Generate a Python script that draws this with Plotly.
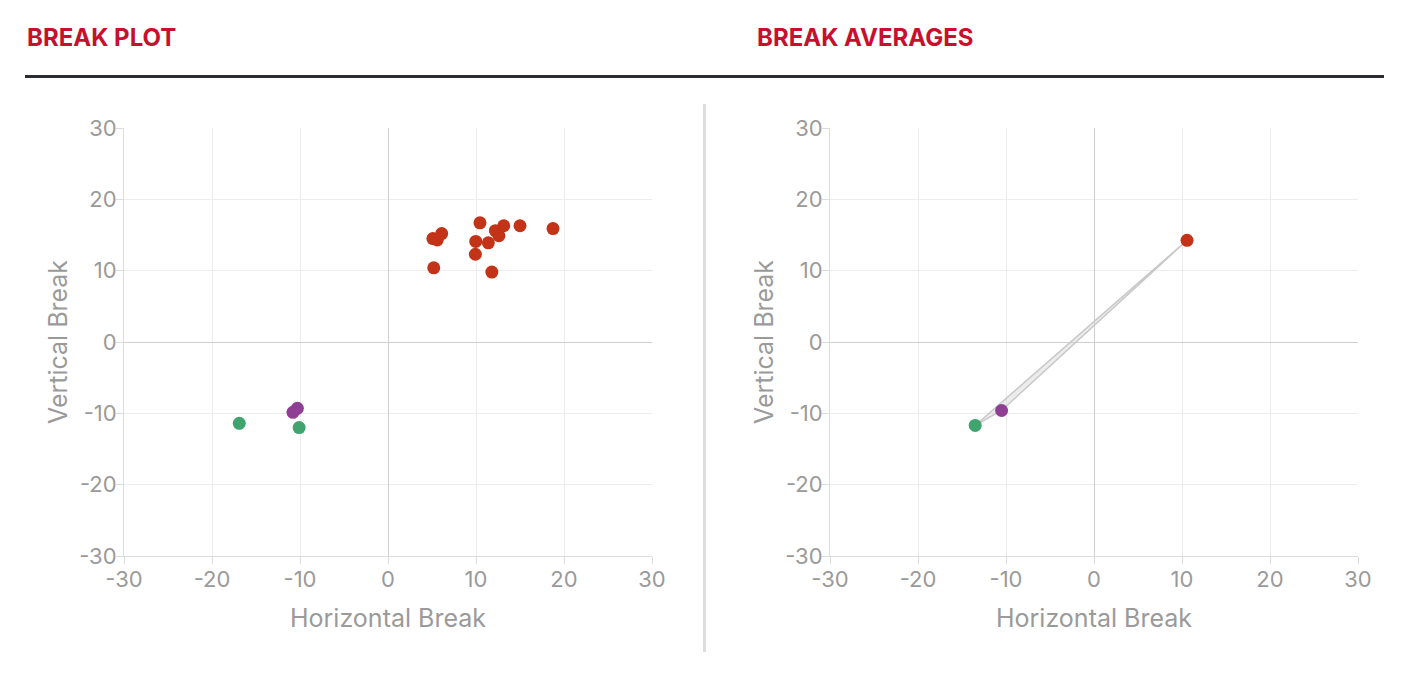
import plotly.graph_objects as go

# The page body has an 8px margin; the figure is sized to fit the 1409x676 window.
OFF = 8
W, H = 1409 - 2 * OFF, 676 - 2 * OFF

# ---- data ----
red_x = [5.1, 5.6, 6.1, 10.45, 9.97, 11.4, 9.93, 5.2, 11.8, 12.2, 12.6, 13.15, 15.0, 18.75]
red_y = [14.5, 14.3, 15.2, 16.7, 14.1, 13.9, 12.3, 10.4, 9.8, 15.6, 14.9, 16.3, 16.3, 15.9]
green_x = [-16.9, -10.1]
green_y = [-11.4, -12.0]
purple_x = [-10.8, -10.3]
purple_y = [-9.86, -9.3]

avg_names = ["green", "red", "purple"]
avg_x = [-13.5, 10.57, -10.5]
avg_y = [-11.7, 14.26, -9.6]

colors = {"red": "#c23318", "green": "#3fa46e", "purple": "#8e3f93"}

ticks = [-30, -20, -10, 0, 10, 20, 30]
tick_text = [str(t) for t in ticks]
title_left = "BREAK PLOT"
title_right = "BREAK AVERAGES"
x_title = "Horizontal Break"
y_title = "Vertical Break"

FONT = "Inter"
GRAY = "#9a9a9a"


def px_x(p):
    """reference-window pixel -> paper x"""
    return (p - OFF) / W


def px_y(p):
    return 1 - (p - OFF) / H


fig = go.Figure()

# left panel
for name, xs, ys in [("red", red_x, red_y), ("green", green_x, green_y), ("purple", purple_x, purple_y)]:
    fig.add_trace(go.Scatter(x=xs, y=ys, mode="markers", xaxis="x", yaxis="y",
                             marker=dict(size=13, color=colors[name], line=dict(width=0)),
                             showlegend=False, hoverinfo="skip"))

# right panel: connecting polygon then markers
fig.add_trace(go.Scatter(x=avg_x + [avg_x[0]], y=avg_y + [avg_y[0]], mode="lines",
                         xaxis="x2", yaxis="y2", fill="toself",
                         fillcolor="rgba(200,200,200,0.35)",
                         line=dict(color="#c8c8c8", width=1.5),
                         showlegend=False, hoverinfo="skip"))
for i, name in enumerate(avg_names):
    fig.add_trace(go.Scatter(x=[avg_x[i]], y=[avg_y[i]], mode="markers", xaxis="x2", yaxis="y2",
                             marker=dict(size=13, color=colors[name], line=dict(width=0)),
                             showlegend=False, hoverinfo="skip"))

ydom = [px_y(556), px_y(128)]
axis_common = dict(range=[-30, 30], tickvals=ticks, ticktext=tick_text, automargin=False,
                   showgrid=True, gridcolor="#ededed", gridwidth=1,
                   zeroline=True, zerolinecolor="#cfcfcf", zerolinewidth=1,
                   showline=True, linecolor="#dcdcdc", linewidth=1,
                   ticks="outside", ticklen=7, tickcolor="#dcdcdc",
                   tickfont=dict(family=FONT, size=22, color=GRAY),
                   fixedrange=True)
xt = dict(text=x_title, font=dict(family=FONT, size=25, color=GRAY), standoff=18)
yt = dict(text=y_title, font=dict(family=FONT, size=25, color=GRAY), standoff=4)
xaxis_extra = dict(ticklabelstandoff=-3)
yaxis_extra = dict(ticklabelstandoff=-5)

fig.update_layout(
    template="plotly",
    width=W, height=H,
    margin=dict(l=0, r=0, t=0, b=0, autoexpand=False),
    showlegend=False,
    paper_bgcolor="white", plot_bgcolor="white",
    xaxis=dict(domain=[px_x(124), px_x(652)], anchor="y", title=xt, **axis_common, **xaxis_extra),
    yaxis=dict(domain=ydom, anchor="x", title=yt, **axis_common, **yaxis_extra),
    xaxis2=dict(domain=[px_x(830), px_x(1358)], anchor="y2", title=xt, **axis_common, **xaxis_extra),
    yaxis2=dict(domain=ydom, anchor="x2", title=yt, **axis_common, **yaxis_extra),
)

annotations = [
    dict(text="<b>" + title_left + "</b>", x=px_x(24.5), y=px_y(38), xref="paper", yref="paper",
         xanchor="left", yanchor="middle", showarrow=False,
         font=dict(family=FONT, size=24, color="#c8102e")),
    dict(text="<b>" + title_right + "</b>", x=px_x(754.5), y=px_y(38), xref="paper", yref="paper",
         xanchor="left", yanchor="middle", showarrow=False,
         font=dict(family=FONT, size=24, color="#c8102e")),
]
fig.update_layout(annotations=annotations)

shapes = [
    # heading rule
    dict(type="line", xref="paper", yref="paper", x0=px_x(25), x1=px_x(1384), y0=px_y(76.5), y1=px_y(76.5),
         line=dict(color="#2b2c31", width=3)),
    # vertical separator
    dict(type="line", xref="paper", yref="paper", x0=px_x(704.5), x1=px_x(704.5), y0=px_y(104), y1=px_y(652),
         line=dict(color="#dddddd", width=3)),
]
fig.update_layout(shapes=shapes)

fig.write_html("out.html")
